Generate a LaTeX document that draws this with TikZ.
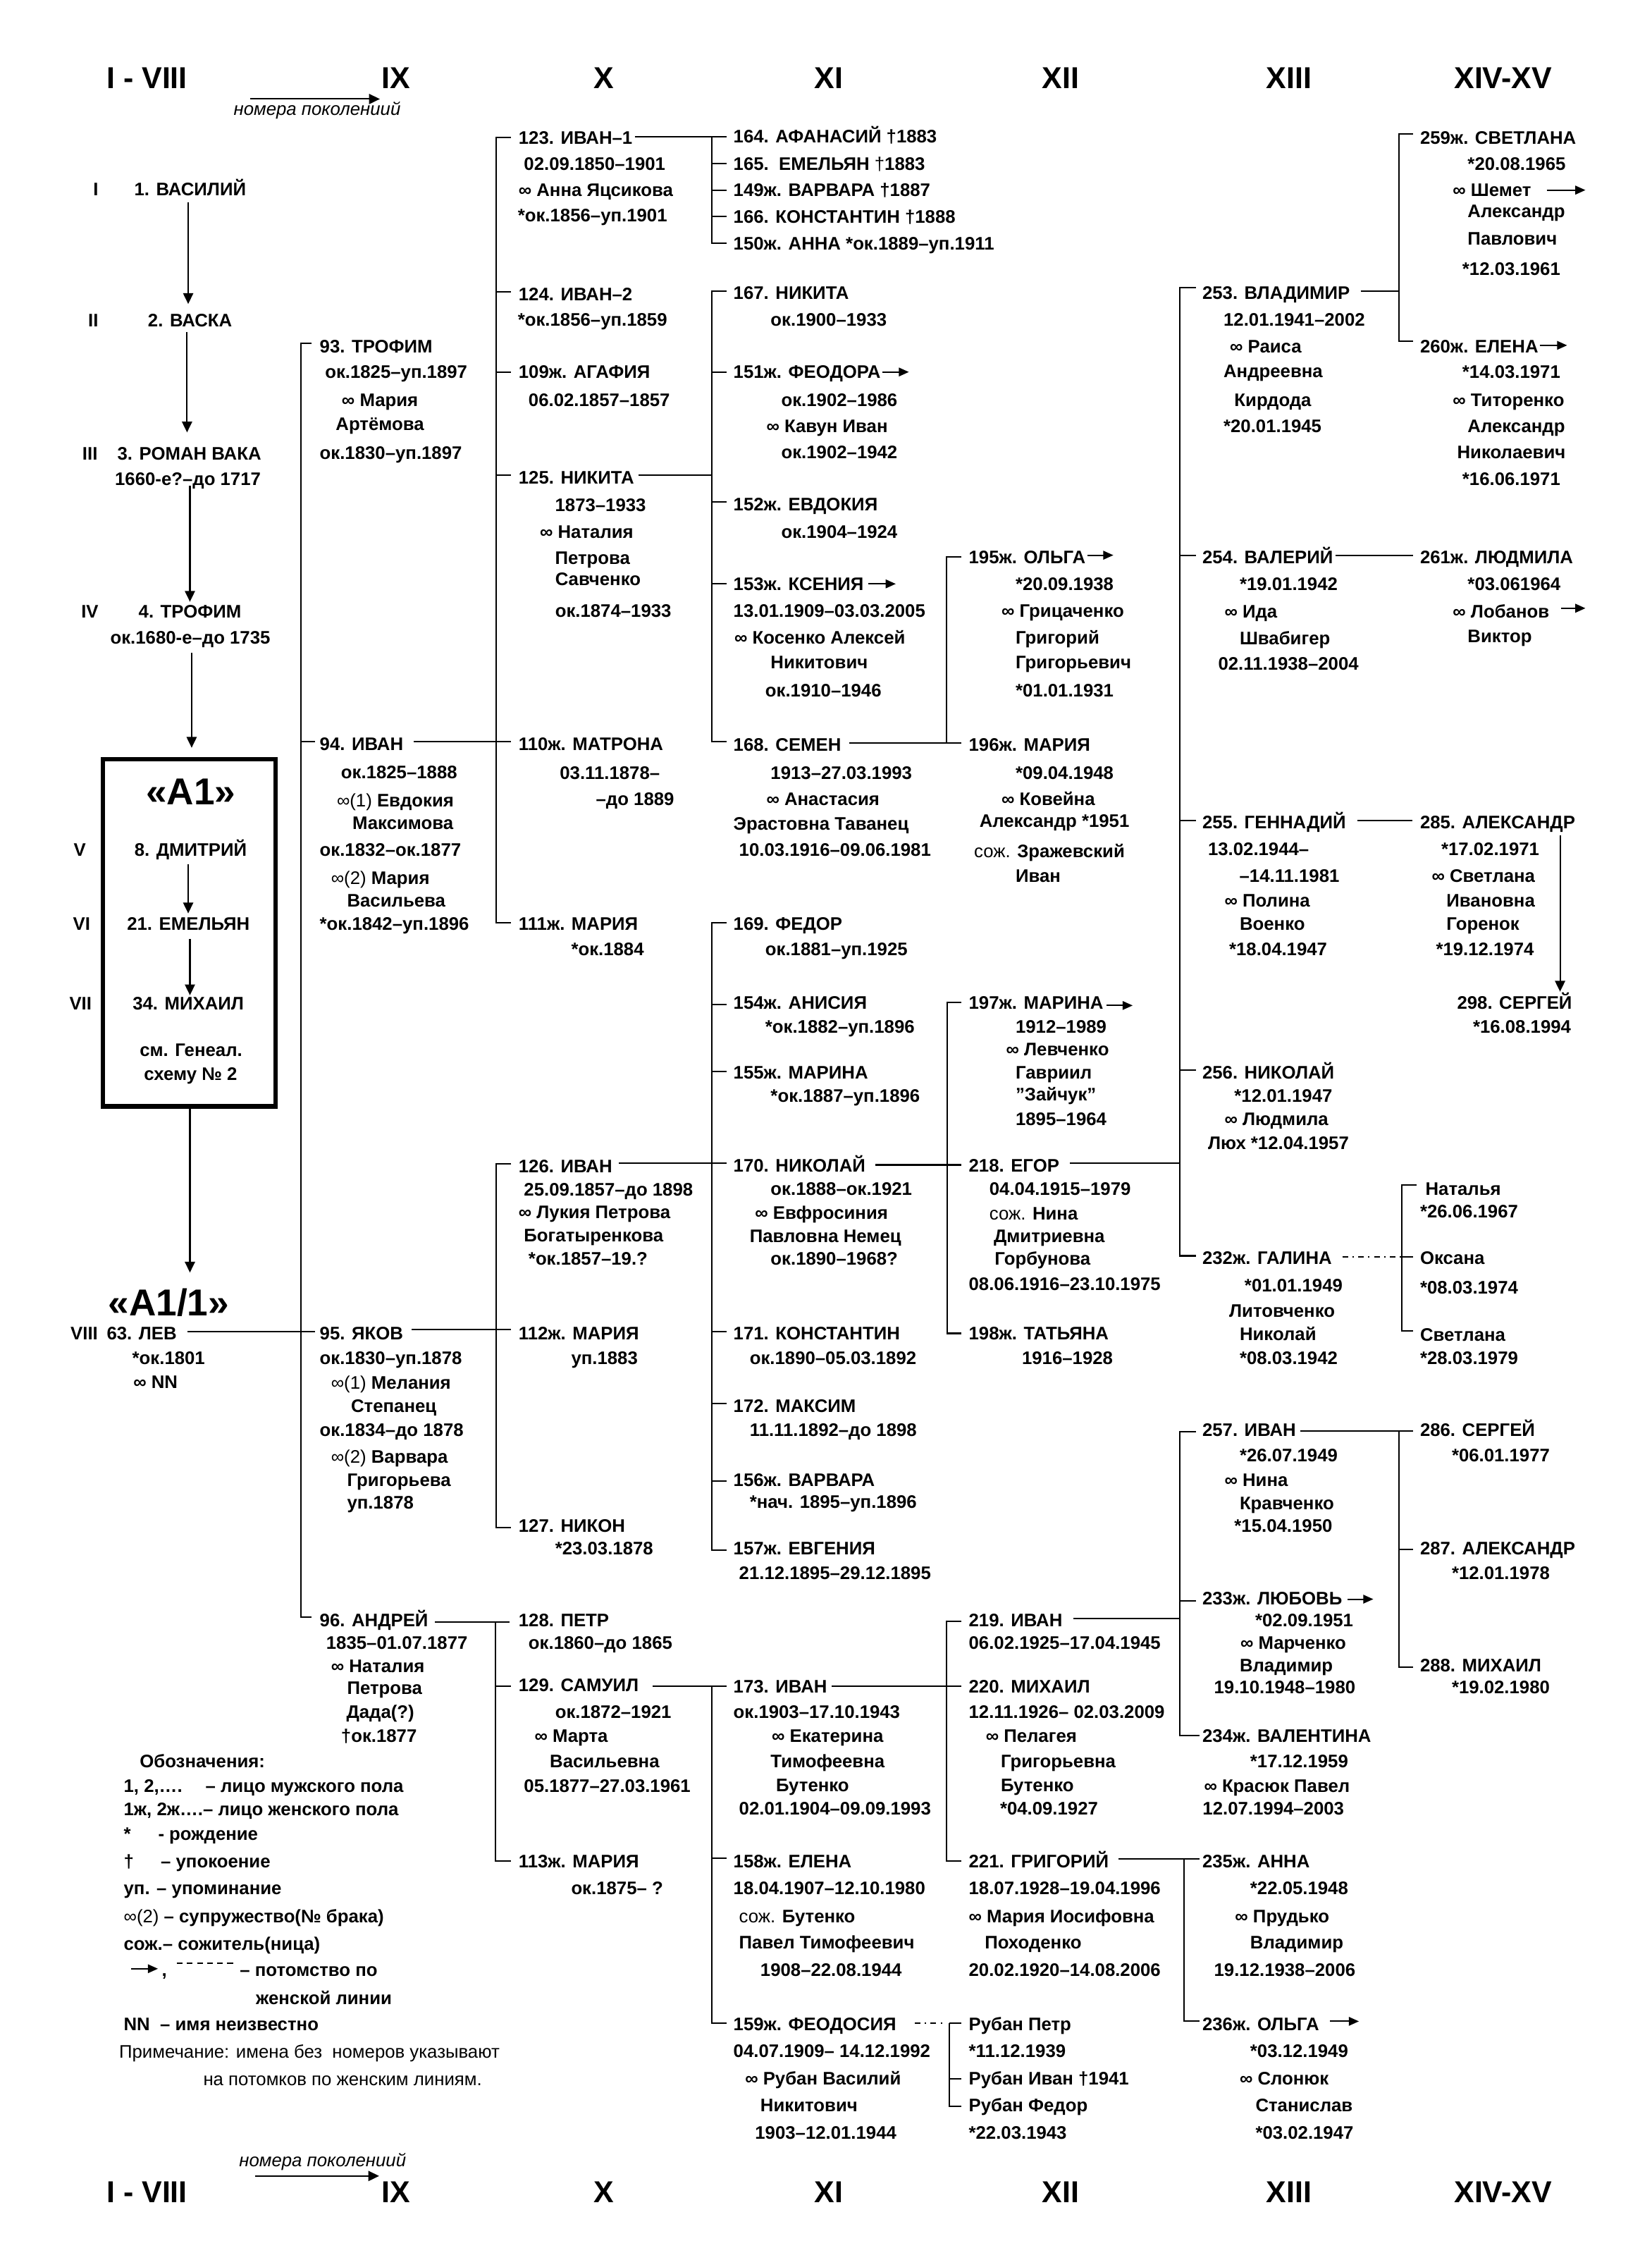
\documentclass[tikz,border=0pt]{standalone}
\usepackage{fontspec}
\setmainfont{Liberation Sans}
\usetikzlibrary{arrows.meta}
\newcounter{tn}
\newcommand\tx[4][]{\stepcounter{tn}\node[txt,#1] (t\arabic{tn}) at (#2,#3+4.5) {#4};}
\newcommand\rg[1]{{\mdseries #1}}
\tikzset{
  txt/.style={anchor=base west, inner sep=0pt, font=\fontsize{12.6}{14}\selectfont\bfseries},
  reg/.style={font=\fontsize{12.6}{14}\selectfont},
  hdr/.style={anchor=base, inner sep=0pt, font=\fontsize{21}{21}\selectfont\bfseries},
  big/.style={anchor=base, inner sep=0pt, font=\fontsize{26}{26}\selectfont\bfseries},
  ital/.style={anchor=base west, inner sep=0pt, font=\fontsize{12.6}{14}\selectfont\itshape},
  ln/.style={line width=1pt},
  arr/.style={line width=1pt, -{Triangle[length=7.5pt,width=7pt]}},
  sarr/.style={line width=1pt, -{Triangle[length=7pt,width=6pt]}},
  dd/.style={line width=1pt, dash pattern=on 4pt off 3pt on 1pt off 3pt}
}
\begin{document}
\begin{tikzpicture}[x=1pt,y=-1pt]
\fill[white] (0,0) rectangle (1146,1568);
\useasboundingbox (0,0) rectangle (1146,1568);
% ---------- headers
\foreach \yy/\s in {61.5/a,1528/b}{
\node[hdr] (hI\s) at (102,\yy) {I - VIII};
\node[hdr] (hIX\s) at (275,\yy) {IX};
\node[hdr] (hX\s) at (419,\yy) {X};
\node[hdr] (hXI\s) at (575,\yy) {XI};
\node[hdr] (hXII\s) at (736,\yy) {XII};
\node[hdr] (hXIII\s) at (894.5,\yy) {XIII};
\node[hdr] (hXIV\s) at (1043,\yy) {XIV-XV};
}
\node[ital] (gen1) at (162,79.8) {номера поколениий};
\draw[arr] (173.7,68.7) -- (263.6,68.7);
\node[ital] (gen2) at (165.8,1503) {номера поколениий};
\draw[arr] (176.9,1509.7) -- (263.1,1509.7);
% ---------- left column
\tx{64.5}{131.3}{I}
\tx{93}{131.3}{1. ВАСИЛИЙ}
\tx{61}{222.3}{II}
\tx{102.5}{222.3}{2. ВАСКА}
\tx{57}{314.5}{III}
\tx{81.3}{314.5}{3. РОМАН ВАКА}
\tx{79.6}{332.2}{1660-е?–до 1717}
\tx{56.2}{424}{IV}
\tx{96}{424}{4. ТРОФИМ}
\tx{76.4}{442.2}{ок.1680-е–до 1735}
\node[big] (A1) at (132.4,558.4) {«А1»};
\tx{51}{589.5}{V}
\tx{93.1}{589.5}{8. ДМИТРИЙ}
\tx{50.5}{640.8}{VI}
\tx{88}{640.8}{21. ЕМЕЛЬЯН}
\tx{48}{696.3}{VII}
\tx{91.9}{696.3}{34. МИХАИЛ}
\tx{96.8}{728.4}{см. Генеал.}
\tx{99.8}{744.8}{схему № 2}
\node[big] (A11) at (117,912.9) {«А1/1»};
\tx{48.8}{925.1}{VIII}
\tx{73.9}{925.1}{63. ЛЕВ}
\tx{91.6}{942}{*ок.1801}
\tx{92.4}{958.5}{∞ NN}
\draw[arr] (130.6,140.2) -- (130.6,210.9);
\draw[arr] (129.8,230.4) -- (129.8,300);
\draw[arr] (131.8,337.2) -- (131.8,417.5);
\draw[arr] (133,453.1) -- (133,518.8);
\draw[arr] (130.6,599.6) -- (130.6,633.7);
\draw[arr] (131.8,651.4) -- (131.8,690.5);
\draw[arr] (131.8,768.8) -- (131.8,882.9);
\draw[line width=3pt] (71.2,526.8) rectangle (191.2,767.6);
% ---------- legend
\tx{96.8}{1221.9}{Обозначения:}
\tx{85.7}{1239}{1, 2,….}
\tx{142.4}{1239}{– лицо мужского пола}
\tx{85.7}{1255.3}{1ж, 2ж….– лицо женского пола}
\tx{85.7}{1272.4}{*}
\tx{109.6}{1272.4}{- рождение}
\tx{85.7}{1291.2}{†}
\tx{111.4}{1291.2}{– упокоение}
\tx{85.7}{1310.1}{уп. – упоминание}
\tx{85.7}{1329.5}{\rg{∞(2)} – супружество(№ брака)}
\tx{85.7}{1348.3}{сож.– сожитель(ница)}
\draw[sarr] (91.2,1365.9) -- (109.6,1365.9);
\tx{112.1}{1366.7}{,}
\draw[line width=1pt, dash pattern=on 4pt off 3pt] (122.7,1362) -- (164.6,1362);
\tx{166.3}{1366.7}{– потомство по}
\tx{177.4}{1386}{женской линии}
\tx{85.7}{1404.4}{NN\ \ – имя неизвестно}
\tx[reg]{82.5}{1423.2}{Примечание: имена без\ \ номеров указывают}
\tx[reg]{140.9}{1442.6}{на потомков по женским линиям.}
% ---------- IX column
\tx{221.7}{240.5}{93. ТРОФИМ}
\tx{225.4}{258.1}{ок.1825–уп.1897}
\tx{237}{277.3}{∞ Мария}
\tx{232.8}{294.3}{Артёмова}
\tx{221.7}{314}{ок.1830–уп.1897}
\tx{221.7}{516.2}{94. ИВАН}
\tx{236.5}{535.7}{ок.1825–1888}
\tx{233.6}{555.4}{\rg{∞(1)} Евдокия}
\tx{244.4}{571}{Максимова}
\tx{221.7}{589.5}{ок.1832–ок.1877}
\tx{229.6}{609}{\rg{∞(2)} Мария}
\tx{240.7}{624.8}{Васильева}
\tx{221.7}{640.8}{*ок.1842–уп.1896}
\tx{221.7}{925.1}{95. ЯКОВ}
\tx{221.7}{942}{ок.1830–уп.1878}
\tx{229.6}{959.2}{\rg{∞(1)} Мелания}
\tx{243.4}{975.6}{Степанец}
\tx{221.7}{992}{ок.1834–до 1878}
\tx{229.6}{1010.5}{\rg{∞(2)} Варвара}
\tx{240.7}{1026.9}{Григорьева}
\tx{240.7}{1042.6}{уп.1878}
\tx{221.7}{1123.9}{96. АНДРЕЙ}
\tx{226.2}{1139.8}{1835–01.07.1877}
\tx{229.6}{1155.7}{∞ Наталия}
\tx{240.7}{1170.9}{Петрова}
\tx{240.2}{1187.4}{Дада(?)}
\tx{236.5}{1204.3}{†ок.1877}
\draw[ln] (216.3,238) -- (208.9,238) -- (208.9,1122.1) -- (216.3,1122.1);
\draw[ln] (208.9,514.5) -- (218.8,514.5);
\draw[ln] (130,923.9) -- (218.8,923.9);
\draw[ln] (287,514.5) -- (354.8,514.5);
\draw[ln] (285.8,922.6) -- (354.8,922.6);
\draw[ln] (301.8,1125.4) -- (353.5,1125.4);
% ---------- X column
\tx{359.7}{95.5}{123. ИВАН–1}
\tx{363.4}{113.7}{02.09.1850–1901}
\tx{359.7}{131.9}{∞ Анна Яцсикова}
\tx{359.2}{149.5}{*ок.1856–уп.1901}
\tx{359.7}{204.1}{124. ИВАН–2}
\tx{359.2}{221.8}{*ок.1856–уп.1859}
\tx{359.7}{258.1}{109ж. АГАФИЯ}
\tx{366.6}{277.3}{06.02.1857–1857}
\tx{359.7}{331.4}{125. НИКИТА}
\tx{385}{350.3}{1873–1933}
\tx{374.5}{368.8}{∞ Наталия}
\tx{385}{387.2}{Петрова}
\tx{385.1}{401.8}{Савченко}
\tx{385.1}{423.5}{ок.1874–1933}
\tx{359.7}{516.2}{110ж. МАТРОНА}
\tx{388.3}{536.4}{03.11.1878–}
\tx{413.4}{554.1}{–до 1889}
\tx{359.7}{640.8}{111ж. МАРИЯ}
\tx{396.2}{658.2}{*ок.1884}
\tx{359.7}{808.9}{126. ИВАН}
\tx{363.4}{825.3}{25.09.1857–до 1898}
\tx{359.7}{841}{∞ Лукия Петрова}
\tx{363.4}{856.9}{Богатыренкова}
\tx{366.6}{873.3}{*ок.1857–19.?}
\tx{359.7}{925.1}{112ж. МАРИЯ}
\tx{396.2}{942}{уп.1883}
\tx{359.7}{1058.5}{127. НИКОН}
\tx{385.1}{1074.1}{*23.03.1878}
\tx{359.7}{1123.9}{128. ПЕТР}
\tx{366.6}{1139.8}{ок.1860–до 1865}
\tx{359.7}{1168.9}{129. САМУИЛ}
\tx{385.1}{1187.4}{ок.1872–1921}
\tx{370.8}{1204.3}{∞ Марта}
\tx{381.4}{1221.9}{Васильевна}
\tx{363.4}{1239}{05.1877–27.03.1961}
\tx{359.7}{1291.2}{113ж. МАРИЯ}
\tx{396.2}{1310.1}{ок.1875– ?}
\draw[ln] (354.8,95.5) -- (344.4,95.5) -- (344.4,640) -- (354.8,640);
\foreach \y in {202.6,258.1,329.6} \draw[ln] (344.4,\y) -- (354.8,\y);
\draw[ln] (354.8,807.7) -- (344.4,807.7) -- (344.4,1059.7) -- (354.8,1059.7);
\draw[ln] (344,1125.4) -- (344,1291.2) -- (354.8,1291.2);
\draw[ln] (344,1170.1) -- (354.8,1170.1);
\draw[ln] (440.5,94.7) -- (504,94.7);
\draw[ln] (443,329.6) -- (494.2,329.6);
\draw[ln] (429.4,806.9) -- (504.1,806.9);
\draw[ln] (452.8,1170.1) -- (504,1170.1);
% ---------- XI column
\tx{508.8}{94.7}{164. АФАНАСИЙ †1883}
\tx{508.8}{113.7}{165.\ \ ЕМЕЛЬЯН \rg{†}1883}
\tx{508.8}{131.9}{149ж. ВАРВАРА †1887}
\tx{508.8}{150.3}{166. КОНСТАНТИН †1888}
\tx{508.8}{168.7}{150ж. АННА *ок.1889–уп.1911}
\tx{508.8}{203.3}{167. НИКИТА}
\tx{534.6}{221.8}{ок.1900–1933}
\tx{508.8}{258.1}{151ж. ФЕОДОРА}
\tx{542}{277.3}{ок.1902–1986}
\tx{531.7}{295.5}{∞ Кавун Иван}
\tx{542}{313.7}{ок.1902–1942}
\tx{508.8}{349.8}{152ж. ЕВДОКИЯ}
\tx{542}{368.8}{ок.1904–1924}
\tx{508.8}{405.1}{153ж. КСЕНИЯ}
\tx{508.8}{423.5}{13.01.1909–03.03.2005}
\tx{509.5}{442.2}{∞ Косенко Алексей}
\tx{534.6}{459.4}{Никитович}
\tx{530.9}{478.8}{ок.1910–1946}
\tx{508.8}{516.7}{168. СЕМЕН}
\tx{534.6}{536.4}{1913–27.03.1993}
\tx{531.7}{554.1}{∞ Анастасия}
\tx{508.8}{571.3}{Эрастовна Таванец}
\tx{512.7}{589.5}{10.03.1916–09.06.1981}
\tx{508.8}{640.8}{169. ФЕДОР}
\tx{530.9}{658.2}{ок.1881–уп.1925}
\tx{508.8}{695.6}{154ж. АНИСИЯ}
\tx{530.9}{712}{*ок.1882–уп.1896}
\tx{508.8}{744.1}{155ж. МАРИНА}
\tx{534.6}{760}{*ок.1887–уп.1896}
\tx{508.8}{808.4}{170. НИКОЛАЙ}
\tx{534.6}{824.8}{ок.1888–ок.1921}
\tx{523.8}{841.3}{∞ Евфросиния}
\tx{520.1}{857.4}{Павловна Немец}
\tx{534.6}{873.3}{ок.1890–1968?}
\tx{508.8}{925.1}{171. КОНСТАНТИН}
\tx{520.1}{942}{ок.1890–05.03.1892}
\tx{508.8}{975.6}{172. МАКСИМ}
\tx{520.1}{992}{11.11.1892–до 1898}
\tx{508.8}{1026.7}{156ж. ВАРВАРА}
\tx{520.1}{1042.1}{*нач. 1895–уп.1896}
\tx{508.8}{1074.1}{157ж. ЕВГЕНИЯ}
\tx{512.7}{1091.1}{21.12.1895–29.12.1895}
\tx{508.8}{1170.1}{173. ИВАН}
\tx{508.8}{1187.4}{ок.1903–17.10.1943}
\tx{535.4}{1204.3}{∞ Екатерина}
\tx{534.6}{1221.9}{Тимофеевна}
\tx{538.3}{1238.5}{Бутенко}
\tx{512.7}{1254.8}{02.01.1904–09.09.1993}
\tx{508.8}{1291.2}{158ж. ЕЛЕНА}
\tx{508.8}{1310.1}{18.04.1907–12.10.1980}
\tx{512.7}{1329.5}{\rg{сож.} Бутенко}
\tx{512.7}{1347.6}{Павел Тимофеевич}
\tx{527.5}{1366.7}{1908–22.08.1944}
\tx{508.8}{1404.4}{159ж. ФЕОДОСИЯ}
\tx{508.8}{1423}{04.07.1909– 14.12.1992}
\tx{516.9}{1442.1}{∞ Рубан Василий}
\tx{527.5}{1460.7}{Никитович}
\tx{523.8}{1479.8}{1903–12.01.1944}
\draw[ln] (494.2,94.7) -- (494.2,168.7) -- (504,168.7);
\foreach \y in {113.7,131.9,150.3} \draw[ln] (494.2,\y) -- (504,\y);
\draw[ln] (504,202) -- (494.2,202) -- (494.2,514.5) -- (504,514.5);
\foreach \y in {258.1,348,405.1} \draw[ln] (494.2,\y) -- (504,\y);
\draw[ln] (504,640) -- (494.2,640) -- (494.2,1075.4) -- (504,1075.4);
\foreach \y in {696.8,743.6,923.9,973.6,1027.4} \draw[ln] (494.2,\y) -- (504,\y);
\draw[ln] (494.2,1170.1) -- (494.2,1403.6) -- (504,1403.6);
\draw[ln] (494.2,1289.2) -- (504,1289.2);
\draw[sarr] (612.5,258.1) -- (630.7,258.1);
\draw[sarr] (602.6,405.1) -- (621.6,405.1);
\draw[ln] (589.1,515.5) -- (667.2,515.5);
\draw[ln] (607.6,808.2) -- (667.2,808.2);
\draw[ln] (577.3,1170.1) -- (667.2,1170.1);
\draw[dd] (634.7,1403.6) -- (656,1403.6);
% ---------- XII column
\tx{672.1}{386.5}{195ж. ОЛЬГА}
\tx{704.6}{405.1}{*20.09.1938}
\tx{694.8}{423.5}{∞ Грицаченко}
\tx{704.6}{442.2}{Григорий}
\tx{704.6}{459.4}{Григорьевич}
\tx{704.6}{478.8}{*01.01.1931}
\tx{672.1}{516.7}{196ж. МАРИЯ}
\tx{704.6}{536.4}{*09.04.1948}
\tx{694.8}{554.1}{∞ Ковейна}
\tx{679.5}{569.3}{Александр *1951}
\tx{675.8}{590.7}{\rg{сож.} Зражевский}
\tx{704.6}{607.7}{Иван}
\tx{672.1}{695.6}{197ж. МАРИНА}
\tx{704.6}{712}{1912–1989}
\tx{698}{728}{∞ Левченко}
\tx{704.6}{744.1}{Гавриил}
\tx{704.6}{759.2}{\char"22 Зайчук\char"22}
\tx{704.6}{776.4}{1895–1964}
\tx{672.1}{808.4}{218. ЕГОР}
\tx{686.4}{824.8}{04.04.1915–1979}
\tx{686.4}{841.8}{\rg{сож.} Нина}
\tx{689.4}{857.4}{Дмитриевна}
\tx{690.1}{873.3}{Горбунова}
\tx{672.1}{891}{08.06.1916–23.10.1975}
\tx{672.1}{925.1}{198ж. ТАТЬЯНА}
\tx{709}{942}{1916–1928}
\tx{672.1}{1123.9}{219. ИВАН}
\tx{672.1}{1139.8}{06.02.1925–17.04.1945}
\tx{672.1}{1170.1}{220. МИХАИЛ}
\tx{672.1}{1187.4}{12.11.1926– 02.03.2009}
\tx{683.9}{1204.3}{∞ Пелагея}
\tx{694.3}{1221.9}{Григорьевна}
\tx{694.3}{1238.5}{Бутенко}
\tx{693.8}{1254.8}{*04.09.1927}
\tx{672.1}{1291.2}{221. ГРИГОРИЙ}
\tx{672.1}{1310.1}{18.07.1928–19.04.1996}
\tx{672.1}{1329.5}{∞ Мария Иосифовна}
\tx{683.2}{1347.6}{Походенко}
\tx{672.1}{1366.7}{20.02.1920–14.08.2006}
\tx{672.1}{1404.4}{Рубан Петр}
\tx{672.1}{1423}{*11.12.1939}
\tx{672.1}{1442.1}{Рубан Иван †1941}
\tx{672.1}{1460.7}{Рубан Федор}
\tx{672.1}{1479.8}{*22.03.1943}
\draw[ln] (667.2,386.5) -- (657,386.5) -- (657,515.5);
\draw[ln] (667.2,695.6) -- (657.5,695.6) -- (657.5,925.1) -- (667.2,925.1);
\draw[ln] (667.2,1124.7) -- (656.8,1124.7) -- (656.8,1291.2) -- (667.2,1291.2);
\draw[ln] (658.6,1403.6) -- (658.6,1461.4) -- (667.2,1461.4);
\draw[ln] (658.6,1442.1) -- (667.2,1442.1);
\draw[ln] (658.6,1403.6) -- (667.2,1403.6);
\draw[sarr] (754.6,385.2) -- (772.6,385.2);
\draw[sarr] (767.7,697.6) -- (786,697.6);
\draw[ln] (742.3,806.9) -- (818.5,806.9);
\draw[ln] (744.8,1122.9) -- (818.5,1122.9);
\draw[ln] (776.2,1289.7) -- (832.5,1289.7);
% ---------- XIII column
\tx{834.2}{203.3}{253. ВЛАДИМИР}
\tx{848.9}{221.8}{12.01.1941–2002}
\tx{853.3}{240.5}{∞ Раиса}
\tx{848.9}{257.6}{Андреевна}
\tx{856.4}{277.3}{Кирдода}
\tx{848.9}{295.5}{*20.01.1945}
\tx{834.2}{386.5}{254. ВАЛЕРИЙ}
\tx{860.1}{405.1}{*19.01.1942}
\tx{849.6}{424}{∞ Ида}
\tx{860.1}{443}{Швабигер}
\tx{845.2}{460.2}{02.11.1938–2004}
\tx{834.2}{570.5}{255. ГЕННАДИЙ}
\tx{838.1}{589}{13.02.1944–}
\tx{859.9}{607.7}{–14.11.1981}
\tx{849.6}{624.8}{∞ Полина}
\tx{860.1}{640.8}{Военко}
\tx{852.8}{658.2}{*18.04.1947}
\tx{834.2}{744.1}{256. НИКОЛАЙ}
\tx{856.4}{760}{*12.01.1947}
\tx{849.6}{776.4}{∞ Людмила}
\tx{838.1}{793}{Люх *12.04.1957}
\tx{834.2}{872.8}{232ж. ГАЛИНА}
\tx{863.5}{891.5}{*01.01.1949}
\tx{852.8}{909.2}{Литовченко}
\tx{860.1}{925.6}{Николай}
\tx{860.1}{942}{*08.03.1942}
\tx{834.2}{992}{257. ИВАН}
\tx{860.1}{1009.7}{*26.07.1949}
\tx{849.6}{1026.9}{∞ Нина}
\tx{860.1}{1043}{Кравченко}
\tx{856.4}{1058.5}{*15.04.1950}
\tx{834.2}{1109}{233ж. ЛЮБОВЬ}
\tx{870.9}{1123.9}{*02.09.1951}
\tx{860.6}{1139.8}{∞ Марченко}
\tx{860.1}{1155.5}{Владимир}
\tx{842.3}{1170.6}{19.10.1948–1980}
\tx{834.2}{1204.3}{234ж. ВАЛЕНТИНА}
\tx{867.4}{1221.9}{*17.12.1959}
\tx{835.4}{1239}{∞ Красюк Павел}
\tx{834.4}{1254.8}{12.07.1994–2003}
\tx{834.2}{1291.2}{235ж. АННА}
\tx{867.4}{1310.1}{*22.05.1948}
\tx{856.9}{1329.5}{∞ Прудько}
\tx{867.4}{1347.6}{Владимир}
\tx{842.3}{1366.7}{19.12.1938–2006}
\tx{834.2}{1404.4}{236ж. ОЛЬГА}
\tx{867.4}{1423}{*03.12.1949}
\tx{860.1}{1442.1}{∞ Слонюк}
\tx{871.1}{1460.7}{Станислав}
\tx{871.1}{1479.8}{*03.02.1947}
\draw[ln] (830,199.5) -- (818.5,199.5) -- (818.5,871.3) -- (830,871.3);
\foreach \y in {385.2,569.3,742.3} \draw[ln] (818.5,\y) -- (830,\y);
\draw[ln] (830,993.3) -- (818.5,993.3) -- (818.5,1204.3) -- (832.5,1204.3);
\draw[ln] (818.5,1110.8) -- (830,1110.8);
\draw[ln] (821.5,1289.7) -- (821.5,1402.4) -- (832.5,1402.4);
\draw[sarr] (935.2,1109.5) -- (953,1109.5);
\draw[sarr] (923,1402.4) -- (943,1402.4);
\draw[ln] (944.2,202) -- (970.6,202);
\draw[ln] (926.6,385.2) -- (980.4,385.2);
\draw[ln] (941.8,569.3) -- (979.9,569.3);
\draw[ln] (902.2,992.6) -- (980.4,992.6);
\draw[dd] (931.5,872.1) -- (972.6,872.1);
% ---------- XIV-XV column
\tx{985.3}{95.5}{259ж. СВЕТЛАНА}
\tx{1018.3}{113.7}{*20.08.1965}
\tx{1008}{131.9}{∞ Шемет}
\tx{1018.3}{146.5}{Александр}
\tx{1018.3}{165.4}{Павлович}
\tx{1014.6}{186.4}{*12.03.1961}
\tx{985.3}{240.5}{260ж. ЕЛЕНА}
\tx{1014.6}{258.1}{*14.03.1971}
\tx{1008}{277.3}{∞ Титоренко}
\tx{1018.3}{295.5}{Александр}
\tx{1011}{313.7}{Николаевич}
\tx{1014.6}{332.2}{*16.06.1971}
\tx{985.3}{386.5}{261ж. ЛЮДМИЛА}
\tx{1018.3}{405.1}{*03.061964}
\tx{1008}{424}{∞ Лобанов}
\tx{1018.3}{441.2}{Виктор}
\tx{985.3}{570.5}{285. АЛЕКСАНДР}
\tx{1000}{589}{*17.02.1971}
\tx{993.4}{607.7}{∞ Светлана}
\tx{1003.6}{624.8}{Ивановна}
\tx{1003.6}{640.8}{Горенок}
\tx{996.3}{658.2}{*19.12.1974}
\tx{1011}{695.6}{298. СЕРГЕЙ}
\tx{1022}{712}{*16.08.1994}
\tx{989}{824.8}{Наталья}
\tx{985.3}{840.5}{*26.06.1967}
\tx{985.3}{872.8}{Оксана}
\tx{985.3}{893}{*08.03.1974}
\tx{985.3}{925.9}{Светлана}
\tx{985.3}{942}{*28.03.1979}
\tx{985.3}{992}{286. СЕРГЕЙ}
\tx{1007.3}{1009.7}{*06.01.1977}
\tx{985.3}{1074.1}{287. АЛЕКСАНДР}
\tx{1007.3}{1091.1}{*12.01.1978}
\tx{985.3}{1155.5}{288. МИХАИЛ}
\tx{1007.3}{1170.6}{*19.02.1980}
\draw[ln] (980.4,93) -- (970.6,93) -- (970.6,236.9) -- (980.4,236.9);
\draw[ln] (982.8,822.3) -- (972.6,822.3) -- (972.6,923.3) -- (980.4,923.3);
\draw[ln] (972.6,872.1) -- (980.4,872.1);
\draw[ln] (970.6,992.6) -- (970.6,1156.7) -- (980.4,1156.7);
\draw[ln] (970.6,1074.9) -- (980.4,1074.9);
\draw[sarr] (1073.3,131.9) -- (1100.2,131.9);
\draw[sarr] (1068.4,239.6) -- (1087.5,239.6);
\draw[sarr] (1083.1,422) -- (1100.2,422);
\draw[arr] (1082.6,579.4) -- (1082.6,688);
\end{tikzpicture}
\end{document}
